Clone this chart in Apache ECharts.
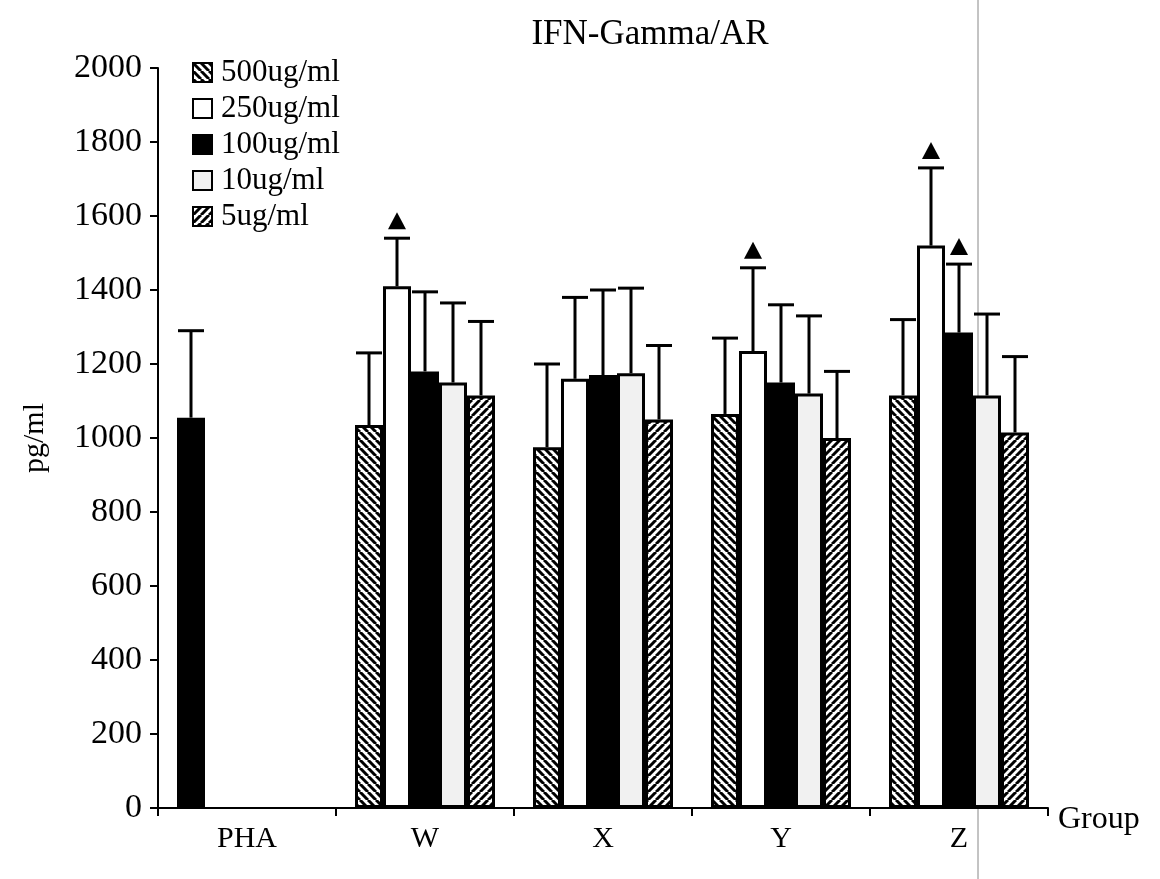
<!DOCTYPE html>
<html>
<head>
<meta charset="utf-8">
<title>IFN-Gamma/AR</title>
<script src="https://cdn.jsdelivr.net/npm/echarts@6/dist/echarts.min.js"></script>
<style>
  html, body { margin: 0; padding: 0; background: #fff; }
  #chart { width: 1160px; height: 879px; }
</style>
</head>
<body>
<div id="chart"></div>
<script>
// categories and values (pg/ml)
const categories = ["PHA", "W", "X", "Y", "Z"];
const doses = ["500ug/ml", "250ug/ml", "100ug/ml", "10ug/ml", "5ug/ml"];

const phaMean = 1055;
const phaErr = 1290;

const means500 = [null, 1035, 975, 1065, 1115];
const err500   = [null, 1230, 1200, 1270, 1320];
const means250 = [null, 1410, 1160, 1235, 1520];
const err250   = [null, 1540, 1380, 1460, 1730];
const means100 = [null, 1180, 1170, 1150, 1285];
const err100   = [null, 1395, 1400, 1360, 1470];
const means10  = [null, 1150, 1175, 1120, 1115];
const err10    = [null, 1365, 1405, 1330, 1335];
const means5   = [null, 1115, 1050, 1000, 1015];
const err5     = [null, 1315, 1250, 1180, 1220];

// significance triangles (1 = marked)
const marks250 = [0, 1, 0, 1, 1];
const marks100 = [0, 0, 0, 0, 1];

const yTicks = { min: 0, max: 2000, interval: 200 };

const FONT = "Liberation Serif";
const BAR_W = 28;

function hatch(dir) {
  const s = 8;
  const c = document.createElement("canvas");
  c.width = s; c.height = s;
  const g = c.getContext("2d");
  g.fillStyle = "#fff";
  g.fillRect(0, 0, s, s);
  g.strokeStyle = "#000";
  g.lineWidth = 3;
  for (let x0 = -s; x0 <= s; x0 += s) {
    g.beginPath();
    if (dir === "\\") { g.moveTo(x0, 0); g.lineTo(x0 + s, s); }
    else { g.moveTo(x0, s); g.lineTo(x0 + s, 0); }
    g.stroke();
  }
  return { image: c, repeat: "repeat" };
}

const fills = [hatch("\\"), "#ffffff", "#000000", "#f1f1f1", hatch("/")];
const allMeans = [means500, means250, means100, means10, means5];
const allErr = [err500, err250, err100, err10, err5];
const allMarks = [null, marks250, marks100, null, null];

const barSeries = doses.map((name, k) => {
  const data = allMeans[k].map((v, i) => (v == null ? "-" : v));
  if (k === 0) data[0] = { value: phaMean, itemStyle: { color: "#000" } };
  return {
    name: name,
    type: "bar",
    barWidth: BAR_W,
    barGap: "0%",
    itemStyle: { color: fills[k], borderColor: "#000", borderWidth: 3 },
    emphasis: { disabled: true },
    data: data
  };
});

// error bars: [category, mean, top, slot, marked]
const errData = [[0, phaMean, phaErr, 0, 0]];
allMeans.forEach((arr, k) => {
  arr.forEach((v, i) => {
    if (v == null) return;
    const m = allMarks[k] ? allMarks[k][i] : 0;
    errData.push([i, v, allErr[k][i], k, m]);
  });
});

const errSeries = {
  type: "custom",
  z: 5,
  silent: true,
  data: errData,
  renderItem: function (params, api) {
    const base = api.coord([api.value(0), api.value(1)]);
    const top = api.coord([api.value(0), api.value(2)]);
    const x = top[0] + (api.value(3) - 2) * BAR_W;
    const st = { stroke: "#000", lineWidth: 3 };
    const children = [
      { type: "line", shape: { x1: x, y1: base[1], x2: x, y2: top[1] }, style: st },
      { type: "line", shape: { x1: x - 13, y1: top[1], x2: x + 13, y2: top[1] }, style: st }
    ];
    if (api.value(4)) {
      const b = top[1] - 9;
      children.push({
        type: "polygon",
        shape: { points: [[x - 9, b], [x + 9, b], [x, b - 17]] },
        style: { fill: "#000" }
      });
    }
    return { type: "group", children: children };
  }
};

const chart = echarts.init(document.getElementById("chart"));
chart.setOption({
  animation: false,
  backgroundColor: "#fff",
  textStyle: { fontFamily: FONT, color: "#000" },
  title: {
    text: "IFN-Gamma/AR",
    left: 645,
    top: 12,
    textAlign: "center",
    textStyle: { fontFamily: FONT, fontSize: 35, fontWeight: "normal", color: "#000" }
  },
  legend: {
    orient: "vertical",
    left: 187,
    top: 52,
    itemWidth: 19,
    itemHeight: 19,
    itemGap: 5,
    icon: "rect",
    data: doses,
    textStyle: { fontFamily: FONT, fontSize: 31, color: "#000", lineHeight: 22, padding: [0, 0, 0, 4] }
  },
  grid: { left: 158, right: 112, top: 68, bottom: 71 },
  xAxis: {
    type: "category",
    data: categories,
    name: "Group",
    nameLocation: "end",
    nameGap: 10,
    nameTextStyle: { fontFamily: FONT, fontSize: 32, color: "#000", verticalAlign: "top", padding: [-4, 0, 0, 0] },
    axisLine: { lineStyle: { color: "#000", width: 2 } },
    axisTick: { show: true, length: 8, lineStyle: { color: "#000", width: 2 } },
    axisLabel: { fontFamily: FONT, fontSize: 30, color: "#000", margin: 16 },
    splitLine: { show: false }
  },
  yAxis: {
    type: "value",
    min: yTicks.min,
    max: yTicks.max,
    interval: yTicks.interval,
    name: "pg/ml",
    nameLocation: "middle",
    nameGap: 108,
    nameRotate: 90,
    nameTextStyle: { fontFamily: FONT, fontSize: 30, color: "#000" },
    axisLine: { show: true, lineStyle: { color: "#000", width: 2 } },
    axisTick: { show: true, length: 8, lineStyle: { color: "#000", width: 2 } },
    axisLabel: { fontFamily: FONT, fontSize: 34, color: "#000", margin: 16, formatter: (v) => String(v) },
    splitLine: { show: false }
  },
  graphic: [
    { type: "line", shape: { x1: 978, y1: 0, x2: 978, y2: 879 }, style: { stroke: "#888", lineWidth: 1 } }
  ],
  series: barSeries.concat([errSeries])
});
</script>
</body>
</html>
